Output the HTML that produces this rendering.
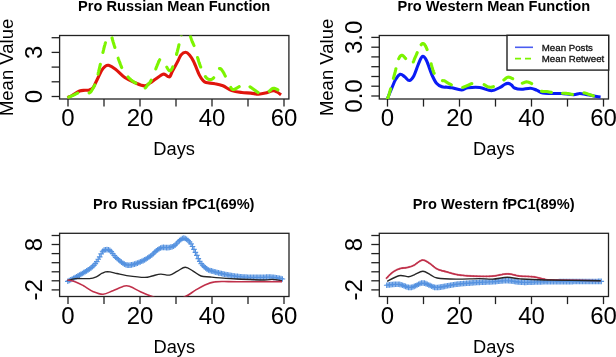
<!DOCTYPE html><html><head><meta charset="utf-8"><style>html,body{margin:0;padding:0;background:#fff;-webkit-font-smoothing:antialiased;}svg{display:block;will-change:transform;}</style></head><body>
<svg width="616" height="357" viewBox="0 0 616 357" font-family='"Liberation Sans", sans-serif' fill="#000">
<text x="174.2" y="10.6" font-size="14.6" font-weight="bold" text-anchor="middle">Pro Russian Mean Function</text>
<text x="493.8" y="10.6" font-size="14.6" font-weight="bold" text-anchor="middle">Pro Western Mean Function</text>
<text x="173.8" y="209" font-size="14.6" font-weight="bold" text-anchor="middle">Pro Russian fPC1(69%)</text>
<text x="493.6" y="209" font-size="14.6" font-weight="bold" text-anchor="middle">Pro Western fPC1(89%)</text>
<text transform="translate(13.3,67.4) rotate(-90)" font-size="18.5" text-anchor="middle">Mean Value</text>
<text transform="translate(332.8,67.4) rotate(-90)" font-size="18.5" text-anchor="middle">Mean Value</text>
<clipPath id="cTL"><rect x="59.6" y="35.5" width="229.29999999999998" height="63.5"/></clipPath><rect x="59.6" y="35.5" width="229.3" height="63.5" fill="none" stroke="#222" stroke-width="1.3"/>
<clipPath id="cTR"><rect x="379.3" y="35.5" width="229.2" height="63.5"/></clipPath><rect x="379.3" y="35.5" width="229.2" height="63.5" fill="none" stroke="#222" stroke-width="1.3"/>
<clipPath id="cBL"><rect x="59.6" y="233.3" width="229.4" height="63.19999999999999"/></clipPath><rect x="59.6" y="233.3" width="229.4" height="63.2" fill="none" stroke="#222" stroke-width="1.3"/>
<clipPath id="cBR"><rect x="379.3" y="233.3" width="229.2" height="63.19999999999999"/></clipPath><rect x="379.3" y="233.3" width="229.2" height="63.2" fill="none" stroke="#222" stroke-width="1.3"/>
<line x1="68.0" y1="99.0" x2="68.0" y2="106.6" stroke="#222" stroke-width="1.3"/><line x1="104.0" y1="99.0" x2="104.0" y2="106.6" stroke="#222" stroke-width="1.3"/><line x1="140.0" y1="99.0" x2="140.0" y2="106.6" stroke="#222" stroke-width="1.3"/><line x1="176.0" y1="99.0" x2="176.0" y2="106.6" stroke="#222" stroke-width="1.3"/><line x1="212.0" y1="99.0" x2="212.0" y2="106.6" stroke="#222" stroke-width="1.3"/><line x1="248.0" y1="99.0" x2="248.0" y2="106.6" stroke="#222" stroke-width="1.3"/><line x1="284.0" y1="99.0" x2="284.0" y2="106.6" stroke="#222" stroke-width="1.3"/><text x="68.0" y="125.5" font-size="24" text-anchor="middle">0</text><text x="140.0" y="125.5" font-size="24" text-anchor="middle">20</text><text x="212.0" y="125.5" font-size="24" text-anchor="middle">40</text><text x="284.0" y="125.5" font-size="24" text-anchor="middle">60</text><text x="174.2" y="154.8" font-size="18.3" text-anchor="middle">Days</text>
<line x1="387.5" y1="99.0" x2="387.5" y2="106.6" stroke="#222" stroke-width="1.3"/><line x1="423.5" y1="99.0" x2="423.5" y2="106.6" stroke="#222" stroke-width="1.3"/><line x1="459.5" y1="99.0" x2="459.5" y2="106.6" stroke="#222" stroke-width="1.3"/><line x1="495.5" y1="99.0" x2="495.5" y2="106.6" stroke="#222" stroke-width="1.3"/><line x1="531.5" y1="99.0" x2="531.5" y2="106.6" stroke="#222" stroke-width="1.3"/><line x1="567.5" y1="99.0" x2="567.5" y2="106.6" stroke="#222" stroke-width="1.3"/><line x1="603.5" y1="99.0" x2="603.5" y2="106.6" stroke="#222" stroke-width="1.3"/><text x="387.5" y="125.5" font-size="24" text-anchor="middle">0</text><text x="459.5" y="125.5" font-size="24" text-anchor="middle">20</text><text x="531.5" y="125.5" font-size="24" text-anchor="middle">40</text><text x="603.5" y="125.5" font-size="24" text-anchor="middle">60</text><text x="493.9" y="154.8" font-size="18.3" text-anchor="middle">Days</text>
<line x1="68.0" y1="296.5" x2="68.0" y2="304.1" stroke="#222" stroke-width="1.3"/><line x1="104.0" y1="296.5" x2="104.0" y2="304.1" stroke="#222" stroke-width="1.3"/><line x1="140.0" y1="296.5" x2="140.0" y2="304.1" stroke="#222" stroke-width="1.3"/><line x1="176.0" y1="296.5" x2="176.0" y2="304.1" stroke="#222" stroke-width="1.3"/><line x1="212.0" y1="296.5" x2="212.0" y2="304.1" stroke="#222" stroke-width="1.3"/><line x1="248.0" y1="296.5" x2="248.0" y2="304.1" stroke="#222" stroke-width="1.3"/><line x1="284.0" y1="296.5" x2="284.0" y2="304.1" stroke="#222" stroke-width="1.3"/><text x="68.0" y="323.8" font-size="24" text-anchor="middle">0</text><text x="140.0" y="323.8" font-size="24" text-anchor="middle">20</text><text x="212.0" y="323.8" font-size="24" text-anchor="middle">40</text><text x="284.0" y="323.8" font-size="24" text-anchor="middle">60</text><text x="174.3" y="352.9" font-size="18.3" text-anchor="middle">Days</text>
<line x1="387.5" y1="296.5" x2="387.5" y2="304.1" stroke="#222" stroke-width="1.3"/><line x1="423.5" y1="296.5" x2="423.5" y2="304.1" stroke="#222" stroke-width="1.3"/><line x1="459.5" y1="296.5" x2="459.5" y2="304.1" stroke="#222" stroke-width="1.3"/><line x1="495.5" y1="296.5" x2="495.5" y2="304.1" stroke="#222" stroke-width="1.3"/><line x1="531.5" y1="296.5" x2="531.5" y2="304.1" stroke="#222" stroke-width="1.3"/><line x1="567.5" y1="296.5" x2="567.5" y2="304.1" stroke="#222" stroke-width="1.3"/><line x1="603.5" y1="296.5" x2="603.5" y2="304.1" stroke="#222" stroke-width="1.3"/><text x="387.5" y="323.8" font-size="24" text-anchor="middle">0</text><text x="459.5" y="323.8" font-size="24" text-anchor="middle">20</text><text x="531.5" y="323.8" font-size="24" text-anchor="middle">40</text><text x="603.5" y="323.8" font-size="24" text-anchor="middle">60</text><text x="493.9" y="352.9" font-size="18.3" text-anchor="middle">Days</text>
<line x1="51.6" y1="96.5" x2="59.6" y2="96.5" stroke="#222" stroke-width="1.3"/><line x1="51.6" y1="81.8" x2="59.6" y2="81.8" stroke="#222" stroke-width="1.3"/><line x1="51.6" y1="67.1" x2="59.6" y2="67.1" stroke="#222" stroke-width="1.3"/><line x1="51.6" y1="52.4" x2="59.6" y2="52.4" stroke="#222" stroke-width="1.3"/><line x1="51.6" y1="37.7" x2="59.6" y2="37.7" stroke="#222" stroke-width="1.3"/><text transform="translate(42,96.5) rotate(-90)" font-size="24" text-anchor="middle">0</text><text transform="translate(42,52.4) rotate(-90)" font-size="24" text-anchor="middle">3</text>
<line x1="371.3" y1="96.0" x2="379.3" y2="96.0" stroke="#222" stroke-width="1.3"/><line x1="371.3" y1="86.2" x2="379.3" y2="86.2" stroke="#222" stroke-width="1.3"/><line x1="371.3" y1="76.5" x2="379.3" y2="76.5" stroke="#222" stroke-width="1.3"/><line x1="371.3" y1="66.7" x2="379.3" y2="66.7" stroke="#222" stroke-width="1.3"/><line x1="371.3" y1="56.9" x2="379.3" y2="56.9" stroke="#222" stroke-width="1.3"/><line x1="371.3" y1="47.2" x2="379.3" y2="47.2" stroke="#222" stroke-width="1.3"/><line x1="371.3" y1="37.4" x2="379.3" y2="37.4" stroke="#222" stroke-width="1.3"/><text transform="translate(361.8,96.0) rotate(-90)" font-size="24" text-anchor="middle">0.0</text><text transform="translate(361.8,37.4) rotate(-90)" font-size="24" text-anchor="middle">3.0</text>
<line x1="51.6" y1="289.9" x2="59.6" y2="289.9" stroke="#222" stroke-width="1.3"/><line x1="51.6" y1="280.8" x2="59.6" y2="280.8" stroke="#222" stroke-width="1.3"/><line x1="51.6" y1="271.8" x2="59.6" y2="271.8" stroke="#222" stroke-width="1.3"/><line x1="51.6" y1="262.7" x2="59.6" y2="262.7" stroke="#222" stroke-width="1.3"/><line x1="51.6" y1="253.6" x2="59.6" y2="253.6" stroke="#222" stroke-width="1.3"/><line x1="51.6" y1="244.5" x2="59.6" y2="244.5" stroke="#222" stroke-width="1.3"/><line x1="51.6" y1="235.5" x2="59.6" y2="235.5" stroke="#222" stroke-width="1.3"/><text transform="translate(42,289.9) rotate(-90)" font-size="24" text-anchor="middle">-2</text><text transform="translate(42,244.5) rotate(-90)" font-size="24" text-anchor="middle">8</text>
<line x1="371.3" y1="289.9" x2="379.3" y2="289.9" stroke="#222" stroke-width="1.3"/><line x1="371.3" y1="280.8" x2="379.3" y2="280.8" stroke="#222" stroke-width="1.3"/><line x1="371.3" y1="271.8" x2="379.3" y2="271.8" stroke="#222" stroke-width="1.3"/><line x1="371.3" y1="262.7" x2="379.3" y2="262.7" stroke="#222" stroke-width="1.3"/><line x1="371.3" y1="253.6" x2="379.3" y2="253.6" stroke="#222" stroke-width="1.3"/><line x1="371.3" y1="244.5" x2="379.3" y2="244.5" stroke="#222" stroke-width="1.3"/><line x1="371.3" y1="235.5" x2="379.3" y2="235.5" stroke="#222" stroke-width="1.3"/><text transform="translate(361.8,289.9) rotate(-90)" font-size="24" text-anchor="middle">-2</text><text transform="translate(361.8,244.5) rotate(-90)" font-size="24" text-anchor="middle">8</text>
<g clip-path="url(#cTL)" fill="none" stroke-linejoin="round">
<path d="M67.5,97.6 C68.2,97.2 70.0,96.6 72.0,95.5 C74.0,94.4 77.4,91.9 79.6,91.0 C81.8,90.1 83.4,90.5 85.0,90.3 C86.6,90.1 88.1,90.3 89.4,89.9 C90.7,89.5 91.7,89.3 92.8,88.0 C93.9,86.7 94.5,85.0 96.0,82.0 C97.5,79.0 100.3,72.8 101.8,70.2 C103.3,67.6 103.9,67.3 105.0,66.5 C106.1,65.7 106.8,64.8 108.6,65.3 C110.3,65.8 112.8,67.2 115.5,69.2 C118.2,71.2 121.6,75.3 124.8,77.5 C128.0,79.7 131.3,81.1 134.6,82.5 C137.9,83.9 141.8,85.8 144.4,85.9 C147.0,86.0 148.4,84.0 150.0,83.0 C151.6,82.0 152.2,81.4 154.2,80.0 C156.2,78.6 160.3,75.5 162.1,74.6 C163.9,73.7 164.0,74.2 165.0,74.5 C166.0,74.8 167.1,76.2 167.9,76.5 C168.7,76.8 169.2,77.4 170.0,76.5 C170.8,75.6 171.2,73.5 172.5,71.0 C173.8,68.5 176.4,64.0 177.8,61.3 C179.2,58.6 179.7,56.5 181.0,55.0 C182.3,53.5 184.1,52.3 185.5,52.3 C186.9,52.3 188.2,53.5 189.5,55.0 C190.8,56.5 191.8,57.9 193.5,61.3 C195.2,64.6 197.8,71.9 199.4,75.1 C201.0,78.3 201.9,79.3 203.0,80.5 C204.1,81.7 204.0,82.0 206.0,82.5 C208.0,83.0 212.3,83.2 215.1,83.8 C217.9,84.3 220.1,84.7 222.9,85.8 C225.7,86.9 228.5,89.5 231.7,90.6 C234.8,91.7 238.6,92.1 241.8,92.5 C245.0,92.9 248.0,92.8 250.8,93.1 C253.6,93.4 256.2,94.2 258.6,94.2 C261.0,94.2 263.0,93.7 265.4,93.1 C267.8,92.5 271.3,91.0 273.2,90.8 C275.1,90.6 275.7,91.3 277.0,92.0 C278.3,92.7 280.4,94.3 281.1,94.8" stroke="#e0150c" stroke-width="3.1"/>
<path d="M68.66,97.15 L68.66,97.15 L68.80,97.09 L68.94,97.04 L69.09,96.98 L69.23,96.93 L69.38,96.87 L69.54,96.81 L69.69,96.75 L69.85,96.69 L70.01,96.62 L70.18,96.56 L70.34,96.50 L70.51,96.43 L70.67,96.37 L70.84,96.30 L71.01,96.23 L71.18,96.17 L71.35,96.10 L71.52,96.03 L71.69,95.96 L71.85,95.90 L72.02,95.83 L72.19,95.76 L72.35,95.69 L72.52,95.63 L72.68,95.56 L72.84,95.49 L72.99,95.43 L73.15,95.36 L73.30,95.30 L73.45,95.23 L73.60,95.17 L73.75,95.10 L73.90,95.02 L74.05,94.95 L74.21,94.87 L74.36,94.79 L74.51,94.71 L74.66,94.63 L74.81,94.55 L74.97,94.46 L75.12,94.38 L75.27,94.29 L75.43,94.21 L75.58,94.12 L75.74,94.03 L75.89,93.95 L76.05,93.86 L76.20,93.78 L76.36,93.69 L76.51,93.61 L76.67,93.53 L76.82,93.45 L76.98,93.37 L77.14,93.29 L77.29,93.22 L77.45,93.15 L77.61,93.08 L77.75,93.02M89.16,92.96 L89.17,92.95 L89.26,92.91 L89.34,92.87 L89.43,92.83 L89.51,92.79 L89.59,92.74 L89.68,92.70 L89.76,92.65 L89.84,92.60 L89.92,92.55 L90.00,92.50 L90.08,92.45 L90.16,92.39 L90.23,92.34 L90.30,92.28 L90.37,92.23 L90.44,92.17 L90.51,92.11 L90.57,92.05 L90.63,91.99 L90.70,91.93 L90.76,91.86 L90.82,91.80 L90.87,91.73 L90.93,91.67 L90.99,91.60 L91.04,91.53 L91.10,91.46 L91.15,91.38 L91.20,91.31 L91.26,91.23 L91.31,91.15 L91.36,91.07 L91.41,90.99 L91.47,90.91 L91.52,90.82 L91.57,90.74 L91.63,90.65 L91.68,90.56 L91.73,90.46 L91.79,90.37 L91.84,90.27 L91.90,90.17 L91.96,90.07 L92.02,89.97 L92.08,89.86 L92.14,89.76 L92.20,89.65 L92.27,89.53 L92.33,89.42 L92.40,89.30 L92.47,89.18 L92.54,89.06 L92.61,88.95 L92.68,88.83 L92.75,88.71 L92.82,88.59 L92.89,88.48 L92.97,88.36 L93.04,88.24 L93.11,88.12 L93.19,88.00 L93.26,87.87 L93.33,87.75 L93.41,87.62 L93.48,87.49 L93.56,87.36 L93.64,87.23 L93.71,87.09 L93.79,86.95 L93.87,86.81 L93.95,86.67 L94.03,86.52 L94.10,86.37 L94.18,86.21 L94.26,86.05 L94.34,85.88 L94.42,85.71 L94.50,85.54 L94.58,85.36 L94.67,85.17 L94.75,84.99 L94.78,84.91M98.01,74.06 L98.08,73.76 L98.18,73.37 L98.27,72.98 L98.37,72.58 L98.47,72.17 L98.57,71.76 L98.68,71.35 L98.78,70.93 L98.88,70.50 L98.99,70.07 L99.09,69.64 L99.20,69.20 L99.31,68.75 L99.42,68.28 L99.53,67.80 L99.65,67.30 L99.77,66.79 L99.89,66.26 L100.01,65.73 L100.14,65.18 L100.26,64.62 L100.33,64.33M102.95,52.47 L102.99,52.30 L103.11,51.77 L103.23,51.24 L103.35,50.73 L103.46,50.24 L103.57,49.76 L103.69,49.29 L103.79,48.84 L103.90,48.41 L104.00,47.99 L104.10,47.60 L104.20,47.22 L104.29,46.86 L104.38,46.51 L104.47,46.17 L104.56,45.84 L104.64,45.52 L104.73,45.22 L104.81,44.92 L104.89,44.64 L104.96,44.36 L105.04,44.10 L105.11,43.84 L105.19,43.59 L105.26,43.35 L105.33,43.11 L105.40,42.89 L105.43,42.78M112.00,37.90 L112.04,38.05 L112.13,38.35 L112.22,38.66 L112.30,38.96 L112.39,39.27 L112.48,39.57 L112.56,39.88 L112.65,40.18 L112.73,40.48 L112.82,40.77 L112.90,41.07 L112.99,41.35 L113.07,41.64 L113.15,41.91 L113.24,42.18 L113.32,42.45 L113.40,42.70 L113.48,42.95 L113.56,43.20 L113.64,43.45 L113.72,43.71 L113.80,43.96 L113.88,44.22 L113.96,44.47 L114.03,44.73 L114.11,44.98 L114.19,45.24 L114.27,45.50 L114.34,45.76 L114.42,46.02 L114.50,46.28 L114.57,46.54 L114.65,46.80 L114.72,47.06 L114.80,47.32 L114.85,47.49M118.20,58.20 L118.22,58.27 L118.31,58.52 L118.39,58.77 L118.48,59.02 L118.56,59.26 L118.65,59.51 L118.73,59.76 L118.82,60.00 L118.91,60.25 L118.99,60.49 L119.08,60.73 L119.17,60.98 L119.26,61.22 L119.35,61.46 L119.44,61.70 L119.53,61.94 L119.62,62.18 L119.71,62.42 L119.81,62.66 L119.90,62.90 L119.99,63.14 L120.08,63.37 L120.18,63.61 L120.27,63.85 L120.35,64.08 L120.44,64.32 L120.53,64.55 L120.62,64.78 L120.70,65.02 L120.79,65.25 L120.88,65.48 L120.97,65.71 L121.05,65.94 L121.14,66.17 L121.23,66.40 L121.32,66.63 L121.41,66.86 L121.50,67.09 L121.59,67.32 L121.68,67.54 L121.69,67.57M128.07,76.96 L128.20,77.10 L128.40,77.31 L128.61,77.52 L128.82,77.73 L129.02,77.94 L129.23,78.14 L129.44,78.35 L129.65,78.55 L129.86,78.75 L130.06,78.94 L130.27,79.14 L130.48,79.33 L130.68,79.51 L130.89,79.70 L131.09,79.88 L131.30,80.06 L131.50,80.23 L131.70,80.40 L131.90,80.57 L132.11,80.73 L132.31,80.89 L132.52,81.05 L132.73,81.21 L132.95,81.37 L133.16,81.52 L133.38,81.67 L133.60,81.82 L133.82,81.96 L134.04,82.10 L134.27,82.24 L134.49,82.38 L134.71,82.52 L134.94,82.66 L135.16,82.79 L135.38,82.92 L135.61,83.05 L135.83,83.17 L135.84,83.18M145.15,88.04 L145.16,88.04 L145.25,87.97 L145.34,87.90 L145.43,87.83 L145.51,87.75 L145.60,87.67 L145.69,87.58 L145.77,87.49 L145.86,87.39 L145.94,87.29 L146.02,87.19 L146.10,87.08 L146.19,86.97 L146.27,86.86 L146.35,86.74 L146.43,86.63 L146.51,86.51 L146.59,86.39 L146.67,86.27 L146.75,86.14 L146.83,86.02 L146.91,85.90 L147.00,85.78 L147.08,85.65 L147.16,85.53 L147.24,85.41 L147.32,85.29 L147.40,85.17 L147.48,85.05 L147.56,84.94 L147.65,84.82 L147.73,84.71 L147.82,84.61 L147.90,84.50 L147.98,84.40 L148.07,84.30 L148.15,84.21 L148.23,84.13 L148.31,84.05 L148.38,83.97 L148.46,83.90 L148.53,83.82 L148.61,83.75 L148.68,83.69 L148.76,83.62 L148.83,83.55 L148.90,83.49 L148.97,83.42 L149.05,83.36 L149.12,83.29 L149.19,83.22 L149.27,83.15 L149.34,83.07 L149.42,82.99 L149.50,82.91 L149.57,82.83 L149.65,82.74 L149.73,82.64 L149.81,82.54 L149.90,82.43 L149.98,82.32 L150.07,82.20 L150.16,82.07 L150.25,81.93 L150.34,81.78 L150.43,81.63 L150.53,81.46 L150.63,81.29 L150.74,81.10 L150.84,80.91 L150.95,80.70 L151.06,80.48 L151.18,80.25 L151.21,80.18M155.75,68.94 L155.87,68.64 L156.03,68.21 L156.20,67.79 L156.36,67.38 L156.51,66.99 L156.66,66.60 L156.81,66.23 L156.96,65.87 L157.09,65.52 L157.23,65.19 L157.36,64.87 L157.48,64.58 L157.60,64.30 L157.71,64.04 L157.82,63.78 L157.93,63.53 L158.03,63.30 L158.13,63.07 L158.22,62.85 L158.32,62.63 L158.40,62.43 L158.49,62.23 L158.57,62.04 L158.65,61.86 L158.73,61.68 L158.81,61.51 L158.88,61.35 L158.95,61.19 L159.02,61.04 L159.09,60.89 L159.16,60.75 L159.22,60.61 L159.29,60.48 L159.35,60.35 L159.41,60.23 L159.47,60.11 L159.53,60.00 L159.59,59.89 L159.65,59.78 L159.67,59.75M166.81,67.08 L166.82,67.09 L166.92,67.28 L167.02,67.46 L167.11,67.64 L167.21,67.82 L167.31,68.00 L167.41,68.17 L167.51,68.35 L167.61,68.52 L167.71,68.69 L167.81,68.85 L167.91,69.01 L168.01,69.17 L168.12,69.32 L168.22,69.47 L168.32,69.61 L168.42,69.74 L168.52,69.87 L168.62,70.00 L168.72,70.11 L168.82,70.22 L168.93,70.32 L169.03,70.41 L169.12,70.49 L169.22,70.57 L169.32,70.63 L169.42,70.69 L169.52,70.73 L169.61,70.77 L169.71,70.79 L169.81,70.80 L169.90,70.80 L169.99,70.79 L170.09,70.77 L170.18,70.75 L170.27,70.71 L170.36,70.67 L170.45,70.62 L170.54,70.57 L170.63,70.50 L170.72,70.43 L170.80,70.36 L170.89,70.27 L170.98,70.18 L171.07,70.08 L171.15,69.97 L171.24,69.86 L171.33,69.74 L171.41,69.61 L171.50,69.48 L171.59,69.34 L171.68,69.19 L171.76,69.04 L171.85,68.88 L171.94,68.72 L172.02,68.54 L172.11,68.37 L172.20,68.18 L172.29,67.99 L172.38,67.80 L172.47,67.59 L172.56,67.39 L172.65,67.17 L172.74,66.95 L172.75,66.92M176.55,54.44 L176.61,54.24 L176.71,53.82 L176.82,53.41 L176.93,53.00 L177.03,52.59 L177.13,52.19 L177.24,51.80 L177.33,51.41 L177.43,51.03 L177.53,50.66 L177.62,50.30 L177.71,49.94 L177.80,49.60 L177.89,49.26 L177.97,48.93 L178.05,48.60 L178.14,48.27 L178.22,47.95 L178.29,47.63 L178.37,47.31 L178.45,47.00 L178.52,46.68 L178.59,46.37 L178.66,46.06 L178.73,45.76 L178.80,45.46 L178.87,45.16 L178.94,44.86 L178.97,44.74M181.27,34.82 L181.31,34.67 L181.37,34.42 L181.43,34.17 L181.49,33.92 L181.55,33.68 L181.61,33.44 L181.67,33.20 L181.73,32.96 L181.79,32.73 L181.85,32.50 L181.91,32.27 L181.97,32.04 L182.03,31.82 L182.10,31.60 L182.16,31.39 L182.22,31.18 L182.28,30.97 L182.34,30.77 L182.41,30.57 L182.47,30.37 L182.54,30.18 L182.60,30.00 L182.66,29.82 L182.73,29.65 L182.80,29.48 L182.86,29.31 L182.93,29.15 L183.00,29.00 L183.07,28.85 L183.14,28.70 L183.21,28.56 L183.28,28.42 L183.35,28.28 L183.42,28.14 L183.50,28.00 L183.57,27.87 L183.64,27.74 L183.71,27.62 L183.79,27.49 L183.86,27.38 L183.94,27.26 L184.01,27.15 L184.09,27.04 L184.16,26.94 L184.24,26.84 L184.32,26.74 L184.39,26.65 L184.47,26.56 L184.55,26.48 L184.62,26.40 L184.70,26.33 L184.78,26.26 L184.85,26.20 L184.93,26.15 L185.01,26.09 L185.08,26.05 L185.16,26.01 L185.24,25.98 L185.32,25.95 L185.32,25.95M190.45,36.25 L190.45,36.26 L190.53,36.50 L190.61,36.74 L190.68,36.99 L190.76,37.23 L190.84,37.47 L190.91,37.71 L190.99,37.95 L191.06,38.19 L191.14,38.43 L191.21,38.66 L191.29,38.89 L191.36,39.12 L191.43,39.34 L191.50,39.57 L191.58,39.78 L191.65,40.00 L191.72,40.21 L191.79,40.41 L191.86,40.61 L191.93,40.81 L192.00,41.00 L192.07,41.18 L192.13,41.36 L192.20,41.52 L192.26,41.68 L192.32,41.83 L192.38,41.97 L192.44,42.11 L192.50,42.24 L192.56,42.37 L192.61,42.49 L192.67,42.61 L192.72,42.73 L192.78,42.84 L192.83,42.95 L192.89,43.06 L192.94,43.17 L192.99,43.28 L193.05,43.39 L193.10,43.50 L193.16,43.61 L193.21,43.72 L193.27,43.83 L193.32,43.95 L193.38,44.07 L193.44,44.20 L193.50,44.33 L193.56,44.47 L193.62,44.61 L193.68,44.76 L193.75,44.92 L193.81,45.08 L193.88,45.25 L193.95,45.43 L194.00,45.58M197.56,57.51 L197.58,57.56 L197.70,57.98 L197.82,58.39 L197.93,58.79 L198.05,59.19 L198.16,59.58 L198.28,59.96 L198.39,60.33 L198.50,60.69 L198.60,61.04 L198.71,61.37 L198.81,61.70 L198.90,62.00 L199.00,62.30 L199.09,62.58 L199.18,62.86 L199.27,63.12 L199.36,63.38 L199.44,63.63 L199.53,63.88 L199.61,64.12 L199.69,64.35 L199.77,64.57 L199.85,64.79 L199.93,65.00 L200.00,65.21 L200.08,65.41 L200.15,65.60 L200.22,65.80 L200.29,65.98 L200.36,66.17 L200.44,66.35 L200.51,66.53 L200.57,66.70 L200.64,66.87 L200.70,67.00M205.38,76.60 L205.39,76.62 L205.48,76.73 L205.57,76.85 L205.66,76.96 L205.76,77.07 L205.85,77.18 L205.94,77.29 L206.04,77.40 L206.13,77.50 L206.22,77.60 L206.32,77.70 L206.41,77.80 L206.51,77.89 L206.60,77.99 L206.70,78.08 L206.80,78.17 L206.89,78.25 L206.99,78.34 L207.09,78.42 L207.19,78.50 L207.29,78.58 L207.38,78.65 L207.48,78.72 L207.58,78.79 L207.68,78.86 L207.78,78.92 L207.88,78.98 L207.98,79.04 L208.08,79.10 L208.18,79.15 L208.28,79.20 L208.38,79.24 L208.49,79.29 L208.59,79.33 L208.69,79.36 L208.79,79.40 L208.89,79.43 L209.00,79.46 L209.10,79.48 L209.20,79.50 L209.30,79.52 L209.41,79.53 L209.51,79.55 L209.62,79.56 L209.72,79.57 L209.83,79.57 L209.94,79.57 L210.05,79.58 L210.16,79.57 L210.27,79.57 L210.38,79.56 L210.49,79.55 L210.60,79.54 L210.71,79.53 L210.82,79.51 L210.93,79.49 L211.04,79.46 L211.15,79.44 L211.26,79.41 L211.38,79.38 L211.49,79.34 L211.60,79.30 L211.71,79.26 L211.82,79.21 L211.93,79.16 L212.04,79.11 L212.15,79.06 L212.26,79.00 L212.36,78.93 L212.47,78.87 L212.58,78.80 L212.68,78.72 L212.79,78.65 L212.89,78.57 L213.00,78.48 L213.10,78.39 L213.20,78.30 L213.30,78.20 L213.40,78.10 L213.50,78.00 L213.60,77.89 L213.69,77.77 L213.72,77.74M219.49,68.54 L219.55,68.52 L219.63,68.51 L219.70,68.50 L219.78,68.49 L219.85,68.49 L219.93,68.49 L220.00,68.50 L220.07,68.51 L220.15,68.53 L220.23,68.55 L220.30,68.58 L220.38,68.61 L220.45,68.65 L220.52,68.69 L220.60,68.73 L220.68,68.78 L220.75,68.84 L220.83,68.90 L220.90,68.96 L220.98,69.03 L221.05,69.10 L221.12,69.17 L221.20,69.24 L221.27,69.32 L221.35,69.41 L221.43,69.49 L221.50,69.58 L221.57,69.67 L221.65,69.77 L221.72,69.86 L221.80,69.96 L221.88,70.06 L221.95,70.16 L222.03,70.26 L222.10,70.37 L222.18,70.48 L222.25,70.58 L222.32,70.69 L222.40,70.80 L222.47,70.91 L222.55,71.02 L222.62,71.14 L222.70,71.25 L222.77,71.36 L222.85,71.47 L222.93,71.59 L223.00,71.70 L223.07,71.81 L223.15,71.93 L223.22,72.04 L223.30,72.16 L223.37,72.28 L223.44,72.40 L223.51,72.53 L223.58,72.65 L223.66,72.78 L223.73,72.90 L223.80,73.03 L223.87,73.16 L223.94,73.30 L224.01,73.43 L224.08,73.57 L224.15,73.70 L224.22,73.84 L224.29,73.98 L224.37,74.12 L224.44,74.27 L224.51,74.41 L224.58,74.56 L224.65,74.71 L224.73,74.86 L224.80,75.01 L224.88,75.17 L224.95,75.32 L225.03,75.48 L225.10,75.64 L225.18,75.80 L225.26,75.96 L225.33,76.12M230.84,87.42 L230.89,87.51 L230.96,87.63 L231.04,87.75 L231.11,87.86 L231.18,87.97 L231.25,88.08 L231.32,88.19 L231.39,88.29 L231.46,88.39 L231.54,88.48 L231.61,88.57 L231.69,88.66 L231.76,88.74 L231.84,88.82 L231.92,88.90 L232.00,88.97 L232.08,89.04 L232.16,89.10 L232.25,89.16 L232.34,89.21 L232.43,89.26 L232.52,89.31 L232.62,89.35 L232.72,89.39 L232.83,89.42 L232.93,89.44 L233.04,89.47 L233.16,89.48 L233.28,89.49 L233.40,89.50 L233.53,89.50 L233.66,89.49 L233.80,89.47 L233.94,89.44 L234.08,89.41 L234.23,89.36 L234.38,89.31 L234.54,89.25 L234.70,89.19 L234.86,89.12 L235.03,89.04 L235.20,88.96 L235.37,88.88 L235.54,88.79 L235.71,88.69 L235.89,88.60 L236.06,88.50 L236.24,88.39 L236.42,88.29 L236.60,88.18 L236.78,88.07 L236.96,87.96 L237.14,87.85 L237.32,87.74 L237.50,87.63 L237.68,87.52 L237.86,87.42 L238.04,87.31 L238.21,87.20 L238.39,87.10 L238.56,87.00 L238.73,86.91 L238.90,86.81 L239.07,86.72 L239.21,86.65M250.02,86.81 L250.04,86.83 L250.16,86.90 L250.28,86.98 L250.41,87.06 L250.53,87.14 L250.65,87.23 L250.78,87.31 L250.90,87.40 L251.03,87.49 L251.16,87.58 L251.28,87.67 L251.41,87.76 L251.54,87.85 L251.67,87.94 L251.79,88.04 L251.92,88.13 L252.05,88.22 L252.18,88.32 L252.31,88.41 L252.44,88.51 L252.56,88.60 L252.69,88.70 L252.82,88.79 L252.95,88.89 L253.08,88.98 L253.21,89.07 L253.34,89.17 L253.46,89.26 L253.59,89.35 L253.72,89.44 L253.85,89.53 L253.97,89.61 L254.10,89.70 L254.23,89.79 L254.35,89.87 L254.48,89.96 L254.61,90.05 L254.74,90.15 L254.87,90.24 L255.00,90.33 L255.13,90.43 L255.27,90.52 L255.40,90.62 L255.53,90.72 L255.66,90.81 L255.80,90.91 L255.93,91.01 L256.06,91.11 L256.20,91.20 L256.33,91.30 L256.46,91.40 L256.59,91.49 L256.72,91.59 L256.86,91.68 L256.99,91.77 L257.12,91.87 L257.25,91.96 L257.38,92.04 L257.51,92.13 L257.64,92.22 L257.76,92.30 L257.89,92.38 L258.01,92.46 L258.14,92.54 L258.19,92.57M269.25,91.27 L269.33,91.20 L269.45,91.10 L269.57,90.99 L269.70,90.87 L269.82,90.76 L269.94,90.64 L270.06,90.52 L270.19,90.40 L270.31,90.29 L270.43,90.17 L270.55,90.05 L270.67,89.93 L270.80,89.81 L270.92,89.70 L271.04,89.59 L271.17,89.48 L271.29,89.37 L271.41,89.26 L271.54,89.16 L271.66,89.06 L271.79,88.97 L271.91,88.88 L272.04,88.79 L272.16,88.71 L272.29,88.64 L272.42,88.57 L272.55,88.50 L272.68,88.45 L272.81,88.40 L272.94,88.36 L273.07,88.33 L273.20,88.30 L273.33,88.28 L273.47,88.27 L273.61,88.27 L273.75,88.27 L273.89,88.28 L274.04,88.29 L274.19,88.31 L274.34,88.34 L274.49,88.37 L274.64,88.41 L274.79,88.45 L274.94,88.49 L275.10,88.54 L275.25,88.59 L275.41,88.65 L275.56,88.70 L275.71,88.77 L275.87,88.83 L276.02,88.89 L276.18,88.96 L276.33,89.03 L276.48,89.10 L276.63,89.18 L276.78,89.25 L276.92,89.32 L277.07,89.40 L277.21,89.47 L277.35,89.54 L277.49,89.62 L277.62,89.69 L277.76,89.76 L277.88,89.82" stroke="#7cf400" stroke-width="3.1" fill="none" stroke-linecap="round" stroke-linejoin="round"/>
</g>
<g clip-path="url(#cTR)" fill="none" stroke-linejoin="round">
<path d="M387.5,98.6 C388.2,96.8 390.6,90.9 392.0,87.7 C393.4,84.5 394.2,81.7 395.6,79.5 C397.0,77.3 398.7,74.8 400.2,74.3 C401.7,73.8 403.2,75.8 404.7,76.8 C406.2,77.8 407.8,80.7 409.3,80.5 C410.8,80.3 412.3,78.6 413.8,75.9 C415.3,73.2 417.0,67.3 418.4,64.1 C419.8,60.9 421.0,57.1 422.4,56.5 C423.8,55.9 424.9,57.4 426.5,60.5 C428.1,63.6 430.3,71.2 432.0,75.0 C433.7,78.8 434.8,81.2 436.5,83.2 C438.2,85.2 440.2,86.1 442.0,86.8 C443.8,87.5 445.4,87.0 447.0,87.2 C448.6,87.4 449.5,87.3 451.9,87.8 C454.3,88.3 458.7,90.0 461.4,90.0 C464.1,90.0 464.9,88.2 468.0,87.8 C471.1,87.4 475.8,87.0 479.7,87.5 C483.6,88.0 488.0,90.7 491.4,90.7 C494.8,90.7 498.0,88.3 500.2,87.3 C502.4,86.3 503.2,85.2 504.5,84.5 C505.8,83.8 507.0,83.3 508.2,83.4 C509.4,83.5 510.4,84.2 511.5,85.0 C512.5,85.8 512.9,87.3 514.5,88.0 C516.1,88.7 518.6,89.3 521.2,89.3 C523.9,89.3 527.8,88.1 530.4,88.2 C533.0,88.3 534.5,89.3 536.6,90.1 C538.7,90.9 540.2,92.5 542.8,93.1 C545.4,93.7 548.9,93.4 552.0,93.5 C555.1,93.6 557.7,93.3 561.3,93.5 C564.9,93.7 570.5,94.7 573.6,94.7 C576.7,94.7 577.7,93.5 579.8,93.5 C581.9,93.5 583.4,94.0 586.0,94.4 C588.6,94.9 592.8,95.8 595.2,96.2 C597.6,96.6 599.7,96.9 600.6,97.0" stroke="#0a1cf5" stroke-width="3.1"/>
<path d="M387.62,98.30 L387.64,98.26 L387.66,98.21 L387.69,98.16 L387.71,98.11 L387.74,98.05 L387.77,98.00 L387.79,97.94 L387.82,97.88 L387.85,97.82 L387.88,97.75 L387.92,97.68 L387.95,97.61 L387.99,97.53 L388.02,97.44 L388.06,97.35 L388.10,97.25 L388.14,97.15 L388.19,97.04 L388.23,96.92 L388.28,96.79 L388.33,96.66 L388.38,96.51 L388.44,96.36 L388.50,96.20 L388.55,96.02 L388.62,95.84 L388.68,95.64 L388.75,95.43 L388.82,95.21 L388.89,94.98 L388.97,94.73 L389.04,94.47 L389.13,94.19 L389.21,93.90 L389.30,93.60 L389.39,93.28 L389.49,92.93 L389.59,92.57 L389.70,92.18 L389.81,91.78 L389.93,91.36 L390.05,90.92 L390.18,90.47 L390.31,90.00 L390.44,89.52 L390.57,89.02 L390.64,88.78M393.41,78.43 L393.53,78.00 L393.67,77.46 L393.81,76.94 L393.95,76.42 L394.08,75.92 L394.21,75.43 L394.34,74.95 L394.46,74.48 L394.58,74.03 L394.70,73.60 L394.81,73.17 L394.92,72.75 L395.03,72.33 L395.14,71.91 L395.24,71.49 L395.35,71.07 L395.45,70.66 L395.55,70.24 L395.65,69.83 L395.75,69.43 L395.84,69.02 L395.91,68.75M398.73,58.71 L398.76,58.64 L398.85,58.44 L398.94,58.25 L399.02,58.07 L399.11,57.89 L399.20,57.72 L399.29,57.56 L399.37,57.40 L399.46,57.25 L399.55,57.10 L399.63,56.96 L399.72,56.83 L399.80,56.70 L399.89,56.58 L399.98,56.47 L400.06,56.36 L400.15,56.26 L400.24,56.16 L400.32,56.07 L400.41,55.98 L400.50,55.90 L400.59,55.82 L400.68,55.75 L400.77,55.69 L400.86,55.63 L400.95,55.58 L401.04,55.53 L401.13,55.48 L401.22,55.44 L401.32,55.41 L401.41,55.38 L401.51,55.36 L401.60,55.34 L401.70,55.32 L401.80,55.31 L401.90,55.30 L402.00,55.30 L402.10,55.31 L402.21,55.32 L402.31,55.35 L402.42,55.39 L402.53,55.43 L402.64,55.49 L402.75,55.55 L402.86,55.62 L402.97,55.70 L403.09,55.79 L403.20,55.88 L403.32,55.98 L403.43,56.09 L403.55,56.20 L403.67,56.31 L403.78,56.43 L403.90,56.56 L404.02,56.69 L404.14,56.82 L404.26,56.95 L404.37,57.09 L404.49,57.22 L404.61,57.36 L404.73,57.50 L404.85,57.64 L404.96,57.78 L405.08,57.92 L405.20,58.06 L405.31,58.20 L405.42,58.34 L405.54,58.47 L405.63,58.58M413.24,61.89 L413.24,61.88 L413.29,61.80 L413.34,61.72 L413.39,61.64 L413.44,61.56 L413.48,61.47 L413.52,61.38 L413.57,61.29 L413.61,61.20 L413.65,61.10 L413.70,61.00 L413.74,60.89 L413.78,60.78 L413.82,60.67 L413.87,60.56 L413.91,60.44 L413.96,60.31 L414.01,60.19 L414.06,60.06 L414.11,59.92 L414.16,59.78 L414.21,59.64 L414.27,59.49 L414.33,59.33 L414.39,59.18 L414.46,59.01 L414.53,58.84 L414.60,58.67 L414.67,58.49 L414.75,58.31 L414.83,58.12 L414.92,57.92 L415.01,57.72 L415.10,57.51 L415.20,57.30 L415.30,57.08 L415.41,56.84 L415.53,56.58 L415.65,56.31 L415.77,56.03 L415.90,55.74 L416.04,55.43 L416.17,55.12 L416.31,54.79 L416.46,54.46 L416.61,54.12 L416.76,53.77 L416.91,53.42 L417.06,53.06 L417.21,52.72M421.17,44.78 L421.23,44.70 L421.34,44.56 L421.44,44.43 L421.54,44.31 L421.65,44.20 L421.74,44.09 L421.84,44.00 L421.94,43.91 L422.03,43.83 L422.12,43.76 L422.21,43.69 L422.29,43.64 L422.38,43.59 L422.46,43.54 L422.55,43.51 L422.63,43.48 L422.71,43.46 L422.79,43.45 L422.87,43.44 L422.95,43.44 L423.03,43.44 L423.10,43.45 L423.18,43.47 L423.26,43.50 L423.34,43.52 L423.41,43.56 L423.49,43.60 L423.57,43.65 L423.65,43.70 L423.73,43.76 L423.81,43.82 L423.89,43.89 L423.98,43.96 L424.06,44.04 L424.14,44.12 L424.23,44.21 L424.32,44.30 L424.41,44.40 L424.50,44.50 L424.59,44.61 L424.69,44.72 L424.78,44.84 L424.87,44.97 L424.97,45.10 L425.06,45.24 L425.16,45.39 L425.25,45.54 L425.35,45.70 L425.44,45.87 L425.54,46.04 L425.63,46.22 L425.73,46.41 L425.83,46.60 L425.92,46.79 L426.02,47.00 L426.12,47.20 L426.22,47.42 L426.31,47.63 L426.41,47.86 L426.51,48.08 L426.61,48.32 L426.71,48.55 L426.81,48.80 L426.91,49.04 L427.00,49.29 L427.10,49.55 L427.12,49.60M431.20,63.77 L431.27,64.05 L431.37,64.46 L431.48,64.86 L431.58,65.25 L431.67,65.64 L431.77,66.01 L431.87,66.38 L431.96,66.74 L432.06,67.08 L432.15,67.41 L432.24,67.73 L432.33,68.03 L432.42,68.32 L432.50,68.60 L432.58,68.86 L432.66,69.11 L432.73,69.35 L432.80,69.58 L432.87,69.80 L432.93,70.01 L433.00,70.21 L433.06,70.41 L433.11,70.59 L433.17,70.77 L433.22,70.94 L433.27,71.10 L433.32,71.26 L433.37,71.41 L433.42,71.56 L433.47,71.70 L433.51,71.83 L433.56,71.96 L433.61,72.09 L433.66,72.21 L433.71,72.33 L433.75,72.45 L433.81,72.57 L433.86,72.68 L433.91,72.79 L433.97,72.90 L434.03,73.01 L434.09,73.13 L434.15,73.24 L434.19,73.29M442.47,80.66 L442.49,80.67 L442.57,80.69 L442.65,80.70 L442.73,80.72 L442.80,80.72 L442.87,80.73 L442.94,80.73 L443.01,80.73 L443.08,80.73 L443.15,80.73 L443.21,80.72 L443.28,80.72 L443.34,80.71 L443.40,80.71 L443.46,80.70 L443.52,80.69 L443.59,80.69 L443.65,80.68 L443.71,80.67 L443.77,80.67 L443.83,80.67 L443.89,80.67 L443.95,80.67 L444.02,80.67 L444.08,80.68 L444.15,80.69 L444.22,80.71 L444.28,80.72 L444.35,80.74 L444.43,80.77 L444.50,80.80 L444.57,80.83 L444.65,80.87 L444.72,80.90 L444.79,80.94 L444.86,80.98 L444.93,81.02 L445.00,81.06 L445.06,81.10 L445.13,81.14 L445.20,81.19 L445.26,81.23 L445.33,81.28 L445.40,81.32 L445.46,81.37 L445.53,81.42 L445.59,81.47 L445.66,81.52 L445.73,81.57 L445.79,81.62 L445.86,81.67 L445.93,81.72 L446.00,81.77 L446.07,81.83 L446.14,81.88 L446.21,81.94 L446.29,81.99 L446.36,82.05 L446.44,82.10 L446.52,82.16 L446.60,82.22 L446.68,82.28 L446.76,82.33 L446.84,82.39 L446.93,82.45 L447.02,82.51 L447.11,82.57 L447.20,82.62 L447.30,82.68 L447.40,82.74 L447.50,82.80 L447.60,82.86 L447.71,82.92 L447.82,82.98 L447.93,83.04 L448.05,83.11 L448.17,83.17 L448.29,83.24 L448.41,83.31 L448.54,83.37 L448.67,83.44 L448.80,83.51 L448.93,83.58 L449.06,83.65 L449.19,83.72 L449.33,83.79 L449.46,83.86 L449.60,83.93 L449.74,84.01 L449.88,84.08 L450.02,84.15 L450.16,84.22 L450.30,84.29 L450.44,84.37 L450.58,84.44 L450.72,84.51 L450.86,84.58 L451.00,84.65 L451.14,84.72 L451.27,84.79 L451.33,84.82M462.66,87.46 L462.77,87.43 L462.92,87.38 L463.06,87.32 L463.21,87.27 L463.36,87.21 L463.51,87.16 L463.66,87.10 L463.81,87.04 L463.96,86.98 L464.11,86.92 L464.26,86.86 L464.42,86.79 L464.57,86.73 L464.72,86.66 L464.88,86.60 L465.03,86.53 L465.18,86.47 L465.34,86.40 L465.49,86.34 L465.64,86.27 L465.80,86.21 L465.95,86.14 L466.10,86.08 L466.25,86.02 L466.41,85.95 L466.56,85.89 L466.71,85.83 L466.86,85.77 L467.01,85.71 L467.15,85.66 L467.30,85.60 L467.45,85.54 L467.59,85.49 L467.73,85.43 L467.87,85.37 L468.00,85.31 L468.14,85.24 L468.27,85.18 L468.41,85.11 L468.54,85.05 L468.67,84.98 L468.80,84.92 L468.93,84.85 L469.06,84.78 L469.19,84.71 L469.32,84.65 L469.45,84.58 L469.58,84.51 L469.71,84.45 L469.84,84.38 L469.97,84.32 L470.11,84.26 L470.24,84.19 L470.38,84.13 L470.52,84.07 L470.66,84.01 L470.80,83.96 L470.94,83.90 L471.09,83.85 L471.24,83.80 L471.39,83.75 L471.55,83.70 L471.70,83.65 L471.87,83.61 L471.88,83.61M484.12,84.65 L484.17,84.67 L484.33,84.75 L484.49,84.84 L484.64,84.92 L484.79,85.01 L484.94,85.10 L485.08,85.18 L485.22,85.27 L485.37,85.36 L485.51,85.46 L485.64,85.55 L485.78,85.64 L485.92,85.73 L486.05,85.82 L486.19,85.91 L486.32,85.99 L486.45,86.08 L486.59,86.16 L486.72,86.25 L486.85,86.33 L486.98,86.40 L487.12,86.48 L487.25,86.55 L487.38,86.62 L487.52,86.68 L487.65,86.74 L487.79,86.79 L487.93,86.85 L488.07,86.89 L488.21,86.93 L488.35,86.97 L488.50,87.00 L488.65,87.03 L488.79,87.05 L488.93,87.08 L489.07,87.10 L489.21,87.12 L489.35,87.14 L489.48,87.16 L489.62,87.17 L489.75,87.19 L489.89,87.20 L490.02,87.21 L490.15,87.22 L490.29,87.22 L490.42,87.22 L490.55,87.23 L490.68,87.22 L490.82,87.22 L490.95,87.21 L491.08,87.21 L491.22,87.19 L491.35,87.18 L491.49,87.16 L491.63,87.14 L491.77,87.12 L491.91,87.09 L492.05,87.07 L492.20,87.03 L492.34,87.00 L492.49,86.96 L492.64,86.92 L492.79,86.87 L492.95,86.82 L493.11,86.77 L493.27,86.72 L493.41,86.66M503.89,79.94 L503.90,79.93 L504.04,79.82 L504.18,79.71 L504.32,79.60 L504.46,79.49 L504.59,79.38 L504.72,79.27 L504.84,79.17 L504.97,79.06 L505.09,78.96 L505.21,78.86 L505.32,78.76 L505.44,78.66 L505.55,78.56 L505.66,78.47 L505.77,78.38 L505.88,78.29 L505.98,78.20 L506.09,78.11 L506.20,78.03 L506.30,77.95 L506.41,77.88 L506.52,77.81 L506.62,77.74 L506.73,77.67 L506.84,77.61 L506.95,77.55 L507.06,77.49 L507.17,77.44 L507.28,77.39 L507.40,77.35 L507.51,77.31 L507.63,77.28 L507.75,77.25 L507.87,77.22 L508.00,77.20 L508.13,77.18 L508.25,77.17 L508.38,77.17 L508.50,77.16 L508.63,77.17 L508.75,77.17 L508.87,77.18 L508.99,77.20 L509.11,77.22 L509.24,77.24 L509.36,77.26 L509.48,77.29 L509.60,77.33 L509.72,77.36 L509.84,77.40 L509.97,77.44 L510.09,77.49 L510.21,77.53 L510.34,77.58 L510.46,77.64 L510.59,77.69 L510.72,77.75 L510.84,77.81 L510.97,77.87 L511.10,77.93 L511.24,78.00 L511.37,78.06 L511.51,78.13 L511.64,78.20 L511.78,78.27 L511.92,78.34 L512.07,78.41 L512.21,78.48 L512.36,78.56 L512.51,78.63 L512.66,78.70 L512.68,78.71M522.22,83.17 L522.33,83.16 L522.48,83.14 L522.63,83.11 L522.78,83.08 L522.93,83.04 L523.07,83.00 L523.22,82.96 L523.36,82.91 L523.50,82.86 L523.64,82.81 L523.78,82.75 L523.91,82.70 L524.05,82.64 L524.19,82.58 L524.32,82.52 L524.46,82.46 L524.59,82.40 L524.73,82.35 L524.87,82.29 L525.00,82.24 L525.14,82.18 L525.27,82.13 L525.41,82.09 L525.55,82.04 L525.69,82.00 L525.83,81.97 L525.97,81.94 L526.11,81.91 L526.26,81.89 L526.40,81.88 L526.55,81.88 L526.70,81.88 L526.85,81.88 L527.00,81.90 L527.15,81.92 L527.31,81.95 L527.46,81.97 L527.62,82.00 L527.78,82.04 L527.93,82.07 L528.09,82.11 L528.25,82.15 L528.41,82.19 L528.56,82.24 L528.72,82.29 L528.88,82.34 L529.04,82.40 L529.20,82.45 L529.36,82.51 L529.53,82.57 L529.69,82.64 L529.85,82.70 L530.01,82.77 L530.17,82.84 L530.34,82.92 L530.50,82.99 L530.67,83.07 L530.83,83.15 L531.00,83.23 L531.16,83.32 L531.33,83.40 L531.49,83.49 L531.66,83.58 L531.67,83.59M541.53,91.22 L541.62,91.24 L541.77,91.28 L541.93,91.32 L542.08,91.35 L542.24,91.38 L542.39,91.40 L542.54,91.42 L542.69,91.44 L542.85,91.45 L543.00,91.46 L543.15,91.47 L543.30,91.47 L543.45,91.47 L543.59,91.47 L543.74,91.47 L543.89,91.47 L544.04,91.47 L544.18,91.46 L544.33,91.46 L544.48,91.46 L544.62,91.45 L544.77,91.45 L544.91,91.44 L545.06,91.44 L545.20,91.43 L545.35,91.43 L545.49,91.43 L545.64,91.44 L545.78,91.44 L545.92,91.45 L546.07,91.46 L546.21,91.47 L546.36,91.48 L546.50,91.50 L546.64,91.52 L546.78,91.54 L546.92,91.56 L547.05,91.58 L547.19,91.60 L547.32,91.63 L547.44,91.65 L547.57,91.67 L547.70,91.69 L547.82,91.72 L547.94,91.74 L548.07,91.76 L548.19,91.78 L548.31,91.81 L548.43,91.83 L548.55,91.86 L548.68,91.88 L548.80,91.90 L548.92,91.93 L549.04,91.95 L549.17,91.97 L549.29,92.00 L549.42,92.02 L549.55,92.04 L549.68,92.07 L549.81,92.09 L549.95,92.12 L550.09,92.14 L550.23,92.16 L550.37,92.18 L550.52,92.21 L550.66,92.23 L550.82,92.25 L550.97,92.27 L551.13,92.30 L551.30,92.32 L551.43,92.33M562.51,93.18 L562.57,93.18 L562.74,93.19 L562.91,93.20 L563.07,93.21 L563.23,93.22 L563.39,93.23 L563.55,93.23 L563.70,93.24 L563.86,93.25 L564.01,93.26 L564.16,93.27 L564.31,93.27 L564.45,93.28 L564.60,93.29 L564.75,93.30 L564.89,93.30 L565.03,93.31 L565.18,93.32 L565.32,93.33 L565.46,93.33 L565.60,93.34 L565.75,93.35 L565.89,93.36 L566.03,93.37 L566.17,93.38 L566.32,93.39 L566.46,93.40 L566.61,93.42 L566.75,93.43 L566.90,93.44 L567.05,93.45 L567.20,93.47 L567.35,93.48 L567.50,93.50 L567.65,93.52 L567.80,93.54 L567.95,93.56 L568.10,93.58 L568.25,93.61 L568.39,93.63 L568.53,93.66 L568.68,93.69 L568.82,93.72 L568.96,93.75 L569.10,93.78 L569.24,93.81 L569.38,93.84 L569.51,93.88 L569.65,93.91 L569.79,93.94 L569.93,93.98 L570.07,94.01 L570.21,94.04 L570.36,94.08 L570.50,94.11 L570.64,94.14 L570.79,94.17 L570.93,94.20 L571.08,94.22 L571.23,94.25 L571.38,94.27 L571.54,94.30 L571.69,94.32 L571.85,94.34 L572.01,94.36 L572.18,94.37 L572.34,94.39 L572.41,94.39M583.93,92.85 L583.96,92.85 L584.12,92.87 L584.28,92.90 L584.44,92.92 L584.60,92.95 L584.75,92.98 L584.90,93.01 L585.04,93.04 L585.19,93.08 L585.33,93.12 L585.47,93.16 L585.61,93.20 L585.75,93.24 L585.88,93.29 L586.02,93.33 L586.15,93.38 L586.28,93.43 L586.42,93.47 L586.55,93.52 L586.68,93.57 L586.81,93.62 L586.94,93.67 L587.07,93.72 L587.20,93.77 L587.33,93.82 L587.46,93.87 L587.60,93.92 L587.73,93.97 L587.86,94.02 L588.00,94.07 L588.14,94.12 L588.27,94.17 L588.41,94.21 L588.56,94.26 L588.70,94.30 L588.85,94.34 L588.99,94.39 L589.14,94.43 L589.29,94.48 L589.44,94.53 L589.59,94.57 L589.74,94.62 L589.90,94.67 L590.05,94.72 L590.20,94.77 L590.36,94.82 L590.51,94.88 L590.67,94.93 L590.82,94.98 L590.98,95.03 L591.13,95.08 L591.28,95.14 L591.44,95.19 L591.59,95.24 L591.74,95.29 L591.90,95.35 L592.05,95.40 L592.20,95.45 L592.35,95.50 L592.49,95.55 L592.64,95.60 L592.79,95.65 L592.93,95.70 L593.07,95.75 L593.21,95.79 L593.35,95.84 L593.45,95.87" stroke="#7cf400" stroke-width="3.1" fill="none" stroke-linecap="round" stroke-linejoin="round"/>
</g>
<rect x="507" y="35.3" width="101.7" height="34.8" fill="#fff" stroke="#222" stroke-width="1.4"/>
<line x1="515" y1="47.3" x2="533" y2="47.3" stroke="#4a5cf0" stroke-width="1.6"/>
<line x1="515" y1="58.6" x2="533" y2="58.6" stroke="#7cf400" stroke-width="1.6" stroke-dasharray="6 4"/>
<text x="541.8" y="50.7" font-size="9.7" fill="#111" stroke="#111" stroke-width="0.3">Mean Posts</text>
<text x="541.8" y="62.4" font-size="9.7" fill="#111" stroke="#111" stroke-width="0.3">Mean Retweet</text>
<g clip-path="url(#cBL)" fill="none" stroke-linejoin="round">
<path d="M65.00,281.30h5.60M67.80,278.50v5.60M66.45,280.54h5.60M69.25,277.74v5.60M67.90,279.78h5.60M70.70,276.98v5.60M69.35,279.02h5.60M72.15,276.22v5.60M70.80,278.26h5.60M73.60,275.46v5.60M72.25,277.49h5.60M75.05,274.69v5.60M73.70,276.71h5.60M76.50,273.91v5.60M75.15,275.92h5.60M77.95,273.12v5.60M76.60,275.11h5.60M79.40,272.31v5.60M78.05,274.28h5.60M80.85,271.48v5.60M79.50,273.44h5.60M82.30,270.64v5.60M80.95,272.59h5.60M83.75,269.79v5.60M82.40,271.73h5.60M85.20,268.93v5.60M83.85,270.84h5.60M86.65,268.04v5.60M85.30,269.92h5.60M88.10,267.12v5.60M86.75,268.96h5.60M89.55,266.16v5.60M88.20,267.91h5.60M91.00,265.11v5.60M89.65,266.75h5.60M92.45,263.95v5.60M91.10,265.33h5.60M93.90,262.53v5.60M92.55,263.61h5.60M95.35,260.81v5.60M94.00,261.59h5.60M96.80,258.79v5.60M95.45,259.28h5.60M98.25,256.48v5.60M96.90,256.83h5.60M99.70,254.03v5.60M98.35,253.85h5.60M101.15,251.05v5.60M99.80,251.23h5.60M102.60,248.43v5.60M101.25,250.08h5.60M104.05,247.28v5.60M102.70,249.68h5.60M105.50,246.88v5.60M104.15,249.60h5.60M106.95,246.80v5.60M105.60,249.80h5.60M108.40,247.00v5.60M107.05,250.38h5.60M109.85,247.58v5.60M108.50,251.58h5.60M111.30,248.78v5.60M109.95,253.58h5.60M112.75,250.78v5.60M111.40,255.49h5.60M114.20,252.69v5.60M112.85,257.31h5.60M115.65,254.51v5.60M114.30,258.52h5.60M117.10,255.72v5.60M115.75,259.70h5.60M118.55,256.90v5.60M117.20,260.95h5.60M120.00,258.15v5.60M118.65,262.13h5.60M121.45,259.33v5.60M120.10,263.20h5.60M122.90,260.40v5.60M121.55,264.08h5.60M124.35,261.28v5.60M123.00,264.75h5.60M125.80,261.95v5.60M124.45,265.14h5.60M127.25,262.34v5.60M125.90,265.25h5.60M128.70,262.45v5.60M127.35,265.15h5.60M130.15,262.35v5.60M128.80,264.91h5.60M131.60,262.11v5.60M130.25,264.55h5.60M133.05,261.75v5.60M131.70,264.12h5.60M134.50,261.32v5.60M133.15,263.63h5.60M135.95,260.83v5.60M134.60,263.08h5.60M137.40,260.28v5.60M136.05,262.50h5.60M138.85,259.70v5.60M137.50,261.90h5.60M140.30,259.10v5.60M138.95,261.29h5.60M141.75,258.49v5.60M140.40,260.62h5.60M143.20,257.82v5.60M141.85,259.85h5.60M144.65,257.05v5.60M143.30,258.99h5.60M146.10,256.19v5.60M144.75,258.06h5.60M147.55,255.26v5.60M146.20,257.06h5.60M149.00,254.26v5.60M147.65,256.03h5.60M150.45,253.23v5.60M149.10,254.98h5.60M151.90,252.18v5.60M150.55,253.71h5.60M153.35,250.91v5.60M152.00,252.09h5.60M154.80,249.29v5.60M153.45,250.81h5.60M156.25,248.01v5.60M154.90,249.75h5.60M157.70,246.95v5.60M156.35,248.79h5.60M159.15,245.99v5.60M157.80,248.03h5.60M160.60,245.23v5.60M159.25,247.54h5.60M162.05,244.74v5.60M160.70,247.41h5.60M163.50,244.61v5.60M162.15,247.49h5.60M164.95,244.69v5.60M163.60,247.62h5.60M166.40,244.82v5.60M165.05,247.67h5.60M167.85,244.87v5.60M166.50,247.48h5.60M169.30,244.68v5.60M167.95,247.17h5.60M170.75,244.37v5.60M169.40,246.72h5.60M172.20,243.92v5.60M170.85,246.09h5.60M173.65,243.29v5.60M172.30,245.16h5.60M175.10,242.36v5.60M173.75,243.71h5.60M176.55,240.91v5.60M175.20,242.04h5.60M178.00,239.24v5.60M176.65,240.66h5.60M179.45,237.86v5.60M178.10,239.51h5.60M180.90,236.71v5.60M179.55,238.54h5.60M182.35,235.74v5.60M181.00,238.16h5.60M183.80,235.36v5.60M182.45,238.49h5.60M185.25,235.69v5.60M183.90,239.30h5.60M186.70,236.50v5.60M185.35,240.46h5.60M188.15,237.66v5.60M186.80,241.97h5.60M189.60,239.17v5.60M188.25,243.91h5.60M191.05,241.11v5.60M189.70,246.45h5.60M192.50,243.65v5.60M191.15,249.36h5.60M193.95,246.56v5.60M192.60,252.30h5.60M195.40,249.50v5.60M194.05,255.34h5.60M196.85,252.54v5.60M195.50,258.56h5.60M198.30,255.76v5.60M196.95,261.41h5.60M199.75,258.61v5.60M198.40,263.55h5.60M201.20,260.75v5.60M199.85,265.23h5.60M202.65,262.43v5.60M201.30,266.65h5.60M204.10,263.85v5.60M202.75,267.91h5.60M205.55,265.11v5.60M204.20,269.14h5.60M207.00,266.34v5.60M205.65,269.95h5.60M208.45,267.15v5.60M207.10,270.44h5.60M209.90,267.64v5.60M208.55,270.89h5.60M211.35,268.09v5.60M210.00,271.31h5.60M212.80,268.51v5.60M211.45,271.71h5.60M214.25,268.91v5.60M212.90,272.10h5.60M215.70,269.30v5.60M214.35,272.47h5.60M217.15,269.67v5.60M215.80,272.84h5.60M218.60,270.04v5.60M217.25,273.19h5.60M220.05,270.39v5.60M218.70,273.54h5.60M221.50,270.74v5.60M220.15,273.87h5.60M222.95,271.07v5.60M221.60,274.19h5.60M224.40,271.39v5.60M223.05,274.49h5.60M225.85,271.69v5.60M224.50,274.77h5.60M227.30,271.97v5.60M225.95,275.05h5.60M228.75,272.25v5.60M227.40,275.30h5.60M230.20,272.50v5.60M228.85,275.55h5.60M231.65,272.75v5.60M230.30,275.78h5.60M233.10,272.98v5.60M231.75,275.99h5.60M234.55,273.19v5.60M233.20,276.20h5.60M236.00,273.40v5.60M234.65,276.38h5.60M237.45,273.58v5.60M236.10,276.55h5.60M238.90,273.75v5.60M237.55,276.71h5.60M240.35,273.91v5.60M239.00,276.85h5.60M241.80,274.05v5.60M240.45,276.96h5.60M243.25,274.16v5.60M241.90,277.06h5.60M244.70,274.26v5.60M243.35,277.14h5.60M246.15,274.34v5.60M244.80,277.21h5.60M247.60,274.41v5.60M246.25,277.26h5.60M249.05,274.46v5.60M247.70,277.30h5.60M250.50,274.50v5.60M249.15,277.33h5.60M251.95,274.53v5.60M250.60,277.35h5.60M253.40,274.55v5.60M252.05,277.38h5.60M254.85,274.58v5.60M253.50,277.39h5.60M256.30,274.59v5.60M254.95,277.40h5.60M257.75,274.60v5.60M256.40,277.39h5.60M259.20,274.59v5.60M257.85,277.36h5.60M260.65,274.56v5.60M259.30,277.32h5.60M262.10,274.52v5.60M260.75,277.27h5.60M263.55,274.47v5.60M262.20,277.22h5.60M265.00,274.42v5.60M263.65,277.17h5.60M266.45,274.37v5.60M265.10,277.14h5.60M267.90,274.34v5.60M266.55,277.13h5.60M269.35,274.33v5.60M268.00,277.14h5.60M270.80,274.34v5.60M269.45,277.20h5.60M272.25,274.40v5.60M270.90,277.33h5.60M273.70,274.53v5.60M272.35,277.52h5.60M275.15,274.72v5.60M273.80,277.75h5.60M276.60,274.95v5.60M275.25,278.03h5.60M278.05,275.23v5.60M276.70,278.34h5.60M279.50,275.54v5.60M278.15,278.67h5.60M280.95,275.87v5.60M279.60,278.98h5.60M282.40,276.18v5.60" stroke="#5592e0" stroke-width="1.15" fill="none"/>
<path d="M67.5,280.5 C68.9,280.2 72.0,278.9 75.7,278.6 C79.4,278.3 86.0,278.9 89.4,278.6 C92.8,278.3 94.2,277.7 96.3,276.8 C98.4,275.9 100.3,274.1 102.2,273.2 C104.1,272.3 105.0,271.6 107.5,271.6 C110.0,271.7 113.7,272.8 116.9,273.5 C120.1,274.2 122.1,275.0 126.7,275.6 C131.3,276.2 140.1,277.3 144.3,277.4 C148.6,277.5 149.4,276.6 152.2,276.0 C154.9,275.4 157.9,274.2 160.8,274.1 C163.7,274.0 166.8,275.6 169.6,275.1 C172.4,274.6 174.9,272.4 177.5,271.1 C180.1,269.8 182.7,267.2 185.3,267.2 C187.9,267.2 190.5,269.6 193.1,271.1 C195.7,272.6 198.1,275.0 201.0,276.0 C203.9,277.0 206.2,276.6 210.4,277.0 C214.6,277.4 220.8,278.0 225.9,278.4 C231.1,278.8 234.9,278.9 241.3,279.2 C247.7,279.5 259.2,280.0 264.4,280.0 C269.5,280.0 269.3,279.3 272.2,279.4 C275.1,279.5 280.4,280.6 282.0,280.8" stroke="#262626" stroke-width="1.4"/>
<path d="M67.5,280.0 C68.9,280.3 73.0,280.9 75.7,281.9 C78.4,282.9 80.6,284.2 83.5,285.8 C86.4,287.4 90.0,290.3 93.3,291.7 C96.6,293.1 99.8,294.5 103.1,294.3 C106.4,294.1 109.3,292.1 112.9,290.7 C116.5,289.3 121.8,286.6 124.7,286.0 C127.7,285.4 128.0,285.9 130.6,286.8 C133.2,287.8 136.8,290.1 140.4,291.7 C144.0,293.3 147.6,294.9 152.2,296.6 C156.8,298.3 162.5,302.0 168.0,302.0 C173.5,302.0 180.8,298.5 185.3,296.6 C189.8,294.7 191.8,292.3 195.1,290.4 C198.4,288.4 201.6,286.3 204.9,284.9 C208.2,283.5 210.8,282.4 214.7,281.9 C218.6,281.3 222.5,281.6 228.4,281.6 C234.3,281.6 241.1,281.8 250.0,281.8 C258.9,281.8 276.7,281.6 282.0,281.6" stroke="#c0304a" stroke-width="1.6"/>
</g>
<g clip-path="url(#cBR)" fill="none" stroke-linejoin="round">
<path d="M383.90,285.20h5.60M386.70,282.40v5.60M385.35,285.04h5.60M388.15,282.24v5.60M386.80,284.86h5.60M389.60,282.06v5.60M388.25,284.67h5.60M391.05,281.87v5.60M389.70,284.51h5.60M392.50,281.71v5.60M391.15,284.37h5.60M393.95,281.57v5.60M392.60,284.27h5.60M395.40,281.47v5.60M394.05,284.22h5.60M396.85,281.42v5.60M395.50,284.25h5.60M398.30,281.45v5.60M396.95,284.41h5.60M399.75,281.61v5.60M398.40,284.76h5.60M401.20,281.96v5.60M399.85,285.25h5.60M402.65,282.45v5.60M401.30,285.83h5.60M404.10,283.03v5.60M402.75,286.42h5.60M405.55,283.62v5.60M404.20,286.95h5.60M407.00,284.15v5.60M405.65,287.33h5.60M408.45,284.53v5.60M407.10,287.51h5.60M409.90,284.71v5.60M408.55,287.39h5.60M411.35,284.59v5.60M410.00,287.00h5.60M412.80,284.20v5.60M411.45,286.41h5.60M414.25,283.61v5.60M412.90,285.70h5.60M415.70,282.90v5.60M414.35,284.94h5.60M417.15,282.14v5.60M415.80,284.18h5.60M418.60,281.38v5.60M417.25,283.52h5.60M420.05,280.72v5.60M418.70,283.07h5.60M421.50,280.27v5.60M420.15,282.95h5.60M422.95,280.15v5.60M421.60,283.15h5.60M424.40,280.35v5.60M423.05,283.64h5.60M425.85,280.84v5.60M424.50,284.30h5.60M427.30,281.50v5.60M425.95,284.94h5.60M428.75,282.14v5.60M427.40,285.45h5.60M430.20,282.65v5.60M428.85,286.19h5.60M431.65,283.39v5.60M430.30,286.92h5.60M433.10,284.12v5.60M431.75,287.34h5.60M434.55,284.54v5.60M433.20,287.50h5.60M436.00,284.70v5.60M434.65,287.48h5.60M437.45,284.68v5.60M436.10,287.35h5.60M438.90,284.55v5.60M437.55,287.16h5.60M440.35,284.36v5.60M439.00,286.92h5.60M441.80,284.12v5.60M440.45,286.65h5.60M443.25,283.85v5.60M441.90,286.36h5.60M444.70,283.56v5.60M443.35,286.07h5.60M446.15,283.27v5.60M444.80,285.78h5.60M447.60,282.98v5.60M446.25,285.49h5.60M449.05,282.69v5.60M447.70,285.21h5.60M450.50,282.41v5.60M449.15,284.95h5.60M451.95,282.15v5.60M450.60,284.70h5.60M453.40,281.90v5.60M452.05,284.48h5.60M454.85,281.68v5.60M453.50,284.29h5.60M456.30,281.49v5.60M454.95,284.12h5.60M457.75,281.32v5.60M456.40,283.96h5.60M459.20,281.16v5.60M457.85,283.82h5.60M460.65,281.02v5.60M459.30,283.68h5.60M462.10,280.88v5.60M460.75,283.55h5.60M463.55,280.75v5.60M462.20,283.43h5.60M465.00,280.63v5.60M463.65,283.31h5.60M466.45,280.51v5.60M465.10,283.19h5.60M467.90,280.39v5.60M466.55,283.08h5.60M469.35,280.28v5.60M468.00,282.97h5.60M470.80,280.17v5.60M469.45,282.87h5.60M472.25,280.07v5.60M470.90,282.76h5.60M473.70,279.96v5.60M472.35,282.66h5.60M475.15,279.86v5.60M473.80,282.56h5.60M476.60,279.76v5.60M475.25,282.46h5.60M478.05,279.66v5.60M476.70,282.37h5.60M479.50,279.57v5.60M478.15,282.28h5.60M480.95,279.48v5.60M479.60,282.20h5.60M482.40,279.40v5.60M481.05,282.14h5.60M483.85,279.34v5.60M482.50,282.08h5.60M485.30,279.28v5.60M483.95,282.04h5.60M486.75,279.24v5.60M485.40,281.99h5.60M488.20,279.19v5.60M486.85,281.95h5.60M489.65,279.15v5.60M488.30,281.88h5.60M491.10,279.08v5.60M489.75,281.81h5.60M492.55,279.01v5.60M491.20,281.71h5.60M494.00,278.91v5.60M492.65,281.58h5.60M495.45,278.78v5.60M494.10,281.44h5.60M496.90,278.64v5.60M495.55,281.29h5.60M498.35,278.49v5.60M497.00,281.14h5.60M499.80,278.34v5.60M498.45,281.00h5.60M501.25,278.20v5.60M499.90,280.87h5.60M502.70,278.07v5.60M501.35,280.78h5.60M504.15,277.98v5.60M502.80,280.71h5.60M505.60,277.91v5.60M504.25,280.70h5.60M507.05,277.90v5.60M505.70,280.74h5.60M508.50,277.94v5.60M507.15,280.84h5.60M509.95,278.04v5.60M508.60,281.01h5.60M511.40,278.21v5.60M510.05,281.22h5.60M512.85,278.42v5.60M511.50,281.45h5.60M514.30,278.65v5.60M512.95,281.67h5.60M515.75,278.87v5.60M514.40,281.88h5.60M517.20,279.08v5.60M515.85,282.05h5.60M518.65,279.25v5.60M517.30,282.18h5.60M520.10,279.38v5.60M518.75,282.27h5.60M521.55,279.47v5.60M520.20,282.32h5.60M523.00,279.52v5.60M521.65,282.34h5.60M524.45,279.54v5.60M523.10,282.33h5.60M525.90,279.53v5.60M524.55,282.30h5.60M527.35,279.50v5.60M526.00,282.26h5.60M528.80,279.46v5.60M527.45,282.21h5.60M530.25,279.41v5.60M528.90,282.15h5.60M531.70,279.35v5.60M530.35,282.09h5.60M533.15,279.29v5.60M531.80,282.04h5.60M534.60,279.24v5.60M533.25,281.99h5.60M536.05,279.19v5.60M534.70,281.95h5.60M537.50,279.15v5.60M536.15,281.91h5.60M538.95,279.11v5.60M537.60,281.88h5.60M540.40,279.08v5.60M539.05,281.85h5.60M541.85,279.05v5.60M540.50,281.82h5.60M543.30,279.02v5.60M541.95,281.80h5.60M544.75,279.00v5.60M543.40,281.79h5.60M546.20,278.99v5.60M544.85,281.77h5.60M547.65,278.97v5.60M546.30,281.76h5.60M549.10,278.96v5.60M547.75,281.74h5.60M550.55,278.94v5.60M549.20,281.73h5.60M552.00,278.93v5.60M550.65,281.72h5.60M553.45,278.92v5.60M552.10,281.71h5.60M554.90,278.91v5.60M553.55,281.70h5.60M556.35,278.90v5.60M555.00,281.68h5.60M557.80,278.88v5.60M556.45,281.67h5.60M559.25,278.87v5.60M557.90,281.66h5.60M560.70,278.86v5.60M559.35,281.65h5.60M562.15,278.85v5.60M560.80,281.64h5.60M563.60,278.84v5.60M562.25,281.63h5.60M565.05,278.83v5.60M563.70,281.62h5.60M566.50,278.82v5.60M565.15,281.61h5.60M567.95,278.81v5.60M566.60,281.60h5.60M569.40,278.80v5.60M568.05,281.59h5.60M570.85,278.79v5.60M569.50,281.58h5.60M572.30,278.78v5.60M570.95,281.57h5.60M573.75,278.77v5.60M572.40,281.56h5.60M575.20,278.76v5.60M573.85,281.55h5.60M576.65,278.75v5.60M575.30,281.54h5.60M578.10,278.74v5.60M576.75,281.53h5.60M579.55,278.73v5.60M578.20,281.53h5.60M581.00,278.73v5.60M579.65,281.52h5.60M582.45,278.72v5.60M581.10,281.51h5.60M583.90,278.71v5.60M582.55,281.50h5.60M585.35,278.70v5.60M584.00,281.49h5.60M586.80,278.69v5.60M585.45,281.48h5.60M588.25,278.68v5.60M586.90,281.47h5.60M589.70,278.67v5.60M588.35,281.46h5.60M591.15,278.66v5.60M589.80,281.45h5.60M592.60,278.65v5.60M591.25,281.44h5.60M594.05,278.64v5.60M592.70,281.43h5.60M595.50,278.63v5.60M594.15,281.43h5.60M596.95,278.63v5.60M595.60,281.42h5.60M598.40,278.62v5.60M597.05,281.41h5.60M599.85,278.61v5.60M598.50,281.40h5.60M601.30,278.60v5.60" stroke="#5592e0" stroke-width="1.15" fill="none"/>
<path d="M386.5,278.2 C387.3,277.4 389.8,274.7 391.4,273.3 C393.0,271.9 394.8,270.8 396.4,270.0 C398.0,269.2 399.3,268.7 401.0,268.3 C402.7,267.9 404.6,268.1 406.7,267.6 C408.8,267.1 410.9,266.8 413.5,265.5 C416.1,264.2 419.6,260.5 422.3,260.1 C425.0,259.7 427.0,261.8 429.5,263.3 C432.0,264.8 434.2,267.6 437.1,269.0 C440.0,270.4 442.9,270.9 446.7,271.9 C450.5,272.9 454.6,274.4 460.0,275.1 C465.4,275.8 473.6,276.1 479.0,276.3 C484.4,276.5 487.9,276.5 492.7,276.1 C497.4,275.7 502.9,273.9 507.5,273.9 C512.0,273.9 515.6,275.6 520.0,276.1 C524.4,276.6 529.4,276.3 533.6,276.8 C537.8,277.3 541.2,278.8 545.0,279.3 C548.8,279.8 547.1,279.6 556.4,279.8 C565.7,280.0 593.3,280.6 600.7,280.7" stroke="#c0304a" stroke-width="1.3"/>
<path d="M385.45,278.20h2.10M386.50,277.15v2.10M386.90,276.68h2.10M387.95,275.63v2.10M388.35,275.18h2.10M389.40,274.13v2.10M389.80,273.78h2.10M390.85,272.73v2.10M391.25,272.59h2.10M392.30,271.54v2.10M392.70,271.56h2.10M393.75,270.51v2.10M394.15,270.66h2.10M395.20,269.61v2.10M395.60,269.87h2.10M396.65,268.82v2.10M397.05,269.20h2.10M398.10,268.15v2.10M398.50,268.69h2.10M399.55,267.64v2.10M399.95,268.30h2.10M401.00,267.25v2.10M401.40,268.07h2.10M402.45,267.02v2.10M402.85,267.96h2.10M403.90,266.91v2.10M404.30,267.83h2.10M405.35,266.78v2.10M405.75,267.58h2.10M406.80,266.53v2.10M407.20,267.26h2.10M408.25,266.21v2.10M408.65,266.90h2.10M409.70,265.85v2.10M410.10,266.46h2.10M411.15,265.41v2.10M411.55,265.91h2.10M412.60,264.86v2.10M413.00,265.20h2.10M414.05,264.15v2.10M414.45,264.25h2.10M415.50,263.20v2.10M415.90,263.17h2.10M416.95,262.12v2.10M417.35,262.08h2.10M418.40,261.03v2.10M418.80,261.11h2.10M419.85,260.06v2.10M420.25,260.38h2.10M421.30,259.33v2.10M421.70,260.06h2.10M422.75,259.01v2.10M423.15,260.24h2.10M424.20,259.19v2.10M424.60,260.83h2.10M425.65,259.78v2.10M426.05,261.71h2.10M427.10,260.66v2.10M427.50,262.69h2.10M428.55,261.64v2.10M428.95,263.62h2.10M430.00,262.57v2.10M430.40,264.72h2.10M431.45,263.67v2.10M431.85,265.95h2.10M432.90,264.90v2.10M433.30,267.17h2.10M434.35,266.12v2.10M434.75,268.24h2.10M435.80,267.19v2.10M436.20,269.07h2.10M437.25,268.02v2.10M437.65,269.70h2.10M438.70,268.65v2.10M439.10,270.21h2.10M440.15,269.16v2.10M440.55,270.62h2.10M441.60,269.57v2.10M442.00,270.99h2.10M443.05,269.94v2.10M443.45,271.34h2.10M444.50,270.29v2.10M444.90,271.70h2.10M445.95,270.65v2.10M446.35,272.09h2.10M447.40,271.04v2.10M447.80,272.50h2.10M448.85,271.45v2.10M449.25,272.92h2.10M450.30,271.87v2.10M450.70,273.33h2.10M451.75,272.28v2.10M452.15,273.72h2.10M453.20,272.67v2.10M453.60,274.09h2.10M454.65,273.04v2.10M455.05,274.41h2.10M456.10,273.36v2.10M456.50,274.70h2.10M457.55,273.65v2.10M457.95,274.95h2.10M459.00,273.90v2.10M459.40,275.16h2.10M460.45,274.11v2.10M460.85,275.33h2.10M461.90,274.28v2.10M462.30,275.47h2.10M463.35,274.42v2.10M463.75,275.60h2.10M464.80,274.55v2.10M465.20,275.71h2.10M466.25,274.66v2.10M466.65,275.81h2.10M467.70,274.76v2.10M468.10,275.89h2.10M469.15,274.84v2.10M469.55,275.97h2.10M470.60,274.92v2.10M471.00,276.04h2.10M472.05,274.99v2.10M472.45,276.11h2.10M473.50,275.06v2.10M473.90,276.16h2.10M474.95,275.11v2.10M475.35,276.22h2.10M476.40,275.17v2.10M476.80,276.26h2.10M477.85,275.21v2.10M478.25,276.31h2.10M479.30,275.26v2.10M479.70,276.35h2.10M480.75,275.30v2.10M481.15,276.38h2.10M482.20,275.33v2.10M482.60,276.41h2.10M483.65,275.36v2.10M484.05,276.42h2.10M485.10,275.37v2.10M485.50,276.41h2.10M486.55,275.36v2.10M486.95,276.37h2.10M488.00,275.32v2.10M488.40,276.32h2.10M489.45,275.27v2.10M489.85,276.23h2.10M490.90,275.18v2.10M491.30,276.13h2.10M492.35,275.08v2.10M492.75,275.98h2.10M493.80,274.93v2.10M494.20,275.78h2.10M495.25,274.73v2.10M495.65,275.53h2.10M496.70,274.48v2.10M497.10,275.25h2.10M498.15,274.20v2.10M498.55,274.96h2.10M499.60,273.91v2.10M500.00,274.68h2.10M501.05,273.63v2.10M501.45,274.42h2.10M502.50,273.37v2.10M502.90,274.19h2.10M503.95,273.14v2.10M504.35,274.01h2.10M505.40,272.96v2.10M505.80,273.91h2.10M506.85,272.86v2.10M507.25,273.92h2.10M508.30,272.87v2.10M508.70,274.04h2.10M509.75,272.99v2.10M510.15,274.25h2.10M511.20,273.20v2.10M511.60,274.54h2.10M512.65,273.49v2.10M513.05,274.89h2.10M514.10,273.84v2.10M514.50,275.24h2.10M515.55,274.19v2.10M515.95,275.58h2.10M517.00,274.53v2.10M517.40,275.87h2.10M518.45,274.82v2.10M518.85,276.09h2.10M519.90,275.04v2.10M520.30,276.22h2.10M521.35,275.17v2.10M521.75,276.31h2.10M522.80,275.26v2.10M523.20,276.37h2.10M524.25,275.32v2.10M524.65,276.41h2.10M525.70,275.36v2.10M526.10,276.44h2.10M527.15,275.39v2.10M527.55,276.47h2.10M528.60,275.42v2.10M529.00,276.52h2.10M530.05,275.47v2.10M530.45,276.60h2.10M531.50,275.55v2.10M531.90,276.72h2.10M532.95,275.67v2.10M533.35,276.92h2.10M534.40,275.87v2.10M534.80,277.18h2.10M535.85,276.13v2.10M536.25,277.51h2.10M537.30,276.46v2.10M537.70,277.88h2.10M538.75,276.83v2.10M539.15,278.27h2.10M540.20,277.22v2.10M540.60,278.64h2.10M541.65,277.59v2.10M542.05,278.97h2.10M543.10,277.92v2.10M543.50,279.23h2.10M544.55,278.18v2.10" stroke="#c0304a" stroke-width="0.7" fill="none"/>
<path d="M387.2,281.4 C389.2,280.4 395.4,276.5 399.0,275.7 C402.6,274.9 406.1,276.8 408.6,276.7 C411.2,276.6 411.9,275.7 414.3,274.8 C416.7,273.9 420.2,271.3 422.9,271.3 C425.6,271.3 428.1,273.7 430.5,274.8 C432.9,275.9 432.8,277.3 437.1,278.0 C441.4,278.7 449.2,279.0 456.2,279.1 C463.2,279.2 472.9,278.6 479.0,278.6 C485.1,278.6 487.9,279.3 492.7,279.1 C497.4,278.9 502.9,277.3 507.5,277.3 C512.0,277.3 513.8,278.4 520.0,278.9 C526.2,279.3 531.5,279.7 545.0,280.0 C558.5,280.3 591.4,280.6 600.7,280.7" stroke="#262626" stroke-width="1.4"/>
</g>
</svg></body></html>
